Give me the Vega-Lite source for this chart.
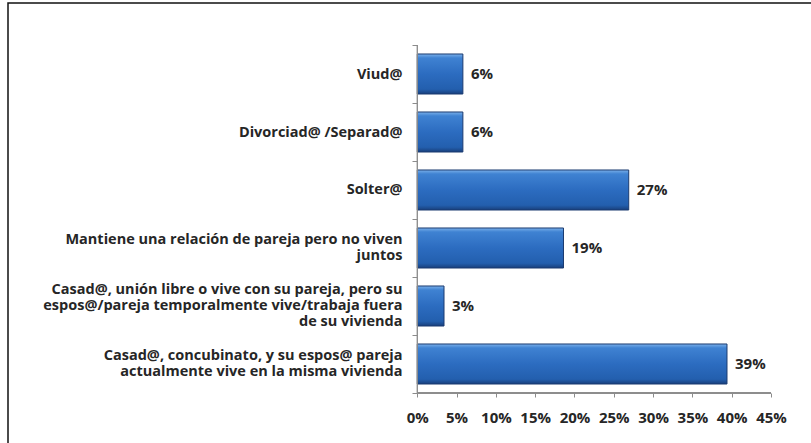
{
  "$schema": "https://vega.github.io/schema/vega-lite/v6.json",
  "width": 806,
  "height": 443,
  "autosize": {"type": "none"},
  "padding": {"left": 8, "top": 3, "right": -3, "bottom": -3},
  "background": "white",
  "config": {
    "view": {"stroke": "#111111", "strokeWidth": 1.5},
    "font": "Open Sans"
  },
  "data": {
    "values": [
      {"cat": "Viud@", "value": 0.058},
      {"cat": "Divorciad@ /Separad@", "value": 0.058},
      {"cat": "Solter@", "value": 0.269},
      {"cat": "Mantiene una relación de pareja pero no viven|juntos", "value": 0.186},
      {"cat": "Casad@, unión libre o vive con su pareja, pero su|espos@/pareja temporalmente vive/trabaja fuera|de su vivienda", "value": 0.034},
      {"cat": "Casad@, concubinato, y su espos@ pareja|actualmente vive en la misma vivienda", "value": 0.394}
    ]
  },
  "encoding": {
    "y": {
      "field": "cat",
      "type": "nominal",
      "sort": null,
      "scale": {"paddingInner": 0, "paddingOuter": 0.819, "align": 0.4421},
      "axis": {
        "orient": "left",
        "offset": -409,
        "title": null,
        "domain": false,
        "ticks": true,
        "tickBand": "extent",
        "tickSize": 5,
        "tickColor": "#8c8c8c",
        "labelExpr": "split(datum.label, '|')",
        "labelFont": "Open Sans",
        "labelFontWeight": "bold",
        "labelFontSize": 14.5,
        "labelColor": "#262626",
        "labelLineHeight": 16,
        "labelPadding": 10,
        "labelLimit": 500,
        "labelOffset": {
          "condition": [
            {"test": "length(split(datum.value, '|')) == 3", "value": -16},
            {"test": "length(split(datum.value, '|')) == 2", "value": -8}
          ],
          "value": 0
        }
      }
    }
  },
  "layer": [
    {
      "mark": {
        "type": "bar",
        "height": {"band": 0.69},
        "fill": {
          "gradient": "linear",
          "x1": 0, "y1": 0, "x2": 0, "y2": 1,
          "stops": [
            {"offset": 0, "color": "#7ab0ea"},
            {"offset": 0.1, "color": "#3f82d2"},
            {"offset": 0.5, "color": "#2c6cc0"},
            {"offset": 0.88, "color": "#235fae"},
            {"offset": 1, "color": "#183f7c"}
          ]
        },
        "stroke": "#1b3b70",
        "strokeWidth": 1
      },
      "encoding": {
        "x": {
          "field": "value",
          "type": "quantitative",
          "scale": {"domain": [-0.5207, 0.5047], "nice": false, "zero": false},
          "axis": {
            "orient": "bottom",
            "offset": -53,
            "title": null,
            "values": [0, 0.05, 0.1, 0.15, 0.2, 0.25, 0.3, 0.35, 0.4, 0.45],
            "format": ".0%",
            "domain": false,
            "grid": false,
            "tickSize": 4,
            "tickColor": "#8c8c8c",
            "labelFont": "Open Sans",
            "labelFontWeight": "bold",
            "labelFontSize": 15,
            "labelColor": "#262626",
            "labelPadding": 13
          }
        },
        "x2": {"datum": 0}
      }
    },
    {
      "mark": {"type": "bar", "height": {"band": 1}, "fill": null, "stroke": "#8c8c8c", "strokeWidth": 1},
      "encoding": {
        "x": {"datum": 0, "type": "quantitative"},
        "x2": {"datum": 0}
      }
    },
    {
      "mark": {"type": "rule", "stroke": "#8c8c8c", "strokeWidth": 1},
      "encoding": {
        "x": {"datum": 0, "type": "quantitative"},
        "x2": {"datum": 0.45},
        "y": {"datum": "Casad@, concubinato, y su espos@ pareja|actualmente vive en la misma vivienda", "bandPosition": 1}
      }
    },
    {
      "mark": {"type": "text", "align": "left", "baseline": "middle", "dx": 8, "font": "Open Sans", "fontWeight": "bold", "fontSize": 15, "color": "#262626"},
      "encoding": {
        "x": {"field": "value", "type": "quantitative"},
        "text": {"field": "value", "type": "quantitative", "format": ".0%"}
      }
    }
  ]
}
